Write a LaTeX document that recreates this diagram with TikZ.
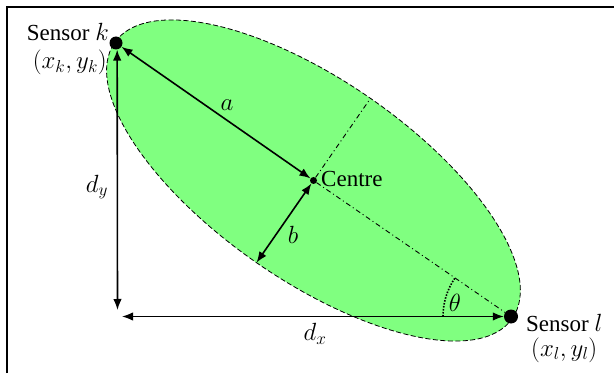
\documentclass[tikz,border=0pt]{standalone}
\usepackage{fontspec}
\setmainfont{Liberation Serif}
\usetikzlibrary{arrows.meta,calc}
\begin{document}
\begin{tikzpicture}[x=1pt,y=1pt,
  dot/.style={circle,fill=black,inner sep=0pt,minimum size=#1},
  dim/.style={line width=1.6pt,{Latex[length=11pt,width=8.5pt]}-{Latex[length=11pt,width=8.5pt]}},
  axisline/.style={line width=0.9pt,dash pattern=on 5pt off 3pt on 1pt off 3pt},
  lbl/.style={font=\fontsize{23}{26}\selectfont,inner sep=0pt},
  zone/.style={fill=green!50,line width=0.8pt,dash pattern=on 5pt off 2.5pt},
  anglemark/.style={line width=1.6pt,dash pattern=on 1.5pt off 1.5pt},
]
\useasboundingbox (0,0) rectangle (614,373);
\draw[line width=2pt] (7,0) -- (7,366) -- (614,366);

\coordinate (C) at (313.5,192.5);
\draw[zone,rotate around={-34.75:(C)}] (C) ellipse [x radius=242, y radius=100];

\node[dot=13pt] (k) at (116,330) {};
\node[dot=14pt] (l) at (511,56.5) {};
\node[dot=7pt] (c) at (C) {};

\coordinate (mtop) at ($(C)+(55.25:100)$);
\coordinate (mbot) at ($(C)+(-124.75:100)$);
\coordinate (dyb) at (117.5,63);
\coordinate (dxl) at (122,56.5);

\draw[axisline] (c) -- (l);
\draw[axisline] (c) -- (mtop);

\draw[dim] (k) -- (c);
\draw[dim] (c) -- (mbot);
\draw[dim] (k.-80) -- (dyb);
\draw[dim] (dxl) -- (l);

\draw[anglemark] ([shift={(180:68)}]l.center) arc[start angle=180, end angle=145.25, radius=68];

\node[lbl,anchor=base east] (sk) at (109,332) {Sensor $k$};
\node[lbl,anchor=base east] (pk) at (107,304) {$(x_k,y_k)$};
\node[lbl,anchor=base west] (sl) at (526,42) {Sensor $l$};
\node[lbl,anchor=base west] (pl) at (531,17) {$(x_l,y_l)$};
\node[lbl,anchor=base west] (ct) at (321,186) {Centre};
\node[lbl] (la) at (227,268) {$a$};
\node[lbl] (lb) at (293,138) {$b$};
\node[lbl] (ldy) at (97,186) {$d_y$};
\node[lbl] (ldx) at (315,39) {$d_x$};
\node[lbl] (lt) at (455,70) {$\theta$};
\end{tikzpicture}
\end{document}
